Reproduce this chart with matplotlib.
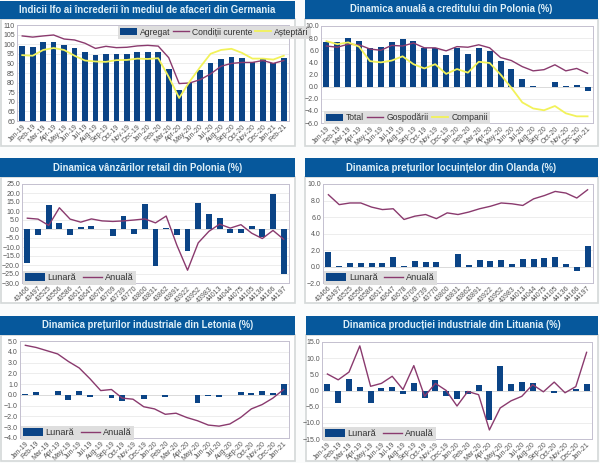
import matplotlib
matplotlib.use("Agg")
import matplotlib.pyplot as plt
import matplotlib.patches as mpatches
import numpy as np

W, H = 600, 463
NAVY = '#0b4486'
BANNER = '#06589c'
PLUM = '#8a3a6e'
YELLOW = '#f2f25a'
FONT = 'Liberation Sans'

months_26 = ['Jan-19', 'Feb-19', 'Mar-19', 'Apr-19', 'May-19', 'Jun-19', 'Jul-19', 'Aug-19', 'Sep-19',
             'Oct-19', 'Nov-19', 'Dec-19', 'Jan-20', 'Feb-20', 'Mar-20', 'Apr-20', 'May-20', 'Jun-20',
             'Jul-20', 'Aug-20', 'Sep-20', 'Oct-20', 'Nov-20', 'Dec-20', 'Jan-21', 'Feb-21']
months_25 = months_26[:25]
serials = ['43466', '43497', '43525', '43556', '43586', '43617', '43647', '43678', '43709', '43739',
           '43770', '43800', '43831', '43862', '43891', '43922', '43952', '43983', '44013', '44044',
           '44075', '44105', '44136', '44166', '44197']

ifo_agregat = [99.3, 98.6, 100.9, 101.3, 99.5, 97.9, 96, 94.3, 94.8, 94.7, 95, 95.8, 95.7, 96, 87, 76,
               80, 86.5, 90.2, 92.3, 93.3, 92.9, 90.8, 92.4, 90.3, 92.7]
ifo_conditii = [104.3, 103.7, 104.3, 104.8, 102.7, 102.2, 100.5, 97.8, 98.9, 98.2, 98.4, 99.1, 99.4, 99,
                93, 79.5, 79.8, 81.5, 84.5, 88.5, 90, 90.5, 90.5, 91.5, 90, 91.5]
ifo_asteptari = [94.3, 94, 97, 98, 97, 94, 91.5, 91, 90.8, 91.7, 91.8, 92.5, 92.3, 92.7, 83, 72,
                 80.5, 88, 95, 97, 97.6, 95.5, 92.5, 92.5, 92, 94]

credit_total = [7.3, 7.4, 8.1, 7.6, 6.4, 6.6, 7.4, 7.8, 7.5, 6.4, 6.4, 5.2, 6.3, 5.4, 6.3, 5.8, 4.2, 2.9,
                1.2, 0.05, 0, 0.8, 0.05, 0.2, -0.7]
credit_gosp = [6.7, 6.5, 7, 6.9, 6.2, 6, 6.8, 6.7, 7.2, 6.4, 6.4, 5.9, 6.6, 6.5, 6.9, 6.4, 4.8, 4.3,
               3.3, 2.6, 2.8, 3.6, 2.6, 3.0, 2.2]
credit_comp = [7.5, 7, 7.3, 6.6, 4.2, 4, 4.3, 5.0, 3.7, 3, 3.7, 2.1, 2.9, 2.3, 4.1, 3.9, 2, -0.2,
               -2.6, -3.6, -3.9, -3.2, -4.4, -4.9, -4.9]

retail_lunara = [-18.8, -3.2, 13.5, 3.4, -3.5, 1.3, 1.8, 0, -4, 7, -2.5, 14.1, -20.3, 0.3, -3.2, -12.2,
                 14.7, 8.3, 6.3, -2.4, -2, 1.9, -4.5, 19.7, -25]
retail_anuala = [6, 5.5, 2, 11.8, 5.5, 3.8, 5.6, 4.5, 4.2, 4.5, 5, 5.6, 3.4, 7.2, -9, -22.9,
                 -7.7, -1.3, 2.7, 0.5, 2.4, -2.3, -5.3, -0.8, -5.7]

locuinte_lunara = [1.8, 0.05, 0.4, 0.4, 0.4, 0.4, 1.1, 0.1, 0.65, 0.6, 0.5, 0, 1.5, 0.2, 0.8, 0.65,
                   0.75, 0.3, 0.9, 0.9, 1, 1.1, 0.3, -0.5, 2.5]
locuinte_anuala = [8.7, 7.5, 7.7, 7.7, 7.2, 6.9, 7, 5.7, 6.1, 6.3, 5.8, 6.5, 6.3, 6.6, 7, 7.3,
                   7.7, 7.6, 7.4, 8.2, 8.6, 9.1, 8.9, 8.3, 9.3]

letonia_lunara = [0.05, 0.3, -0.05, 0.35, -0.5, 0.35, -0.2, -0.05, -0.25, -0.55, -0.05, -0.35, 0, -0.2, 0, 0,
                  -0.75, -0.1, -0.2, 0, 0.3, 0.15, 0.35, 0.15, 1]
letonia_anuala = [4.6, 4.4, 4.1, 3.8, 3.1, 2.5, 1.5, 0.4, 0.5, -0.3, -0.4, -1.1, -1.3, -1.8, -1.7, -2.1,
                  -2.4, -2.8, -2.9, -2.7, -2.1, -1.3, -0.9, -0.3, 0.5]

lituania_lunara = [2, -4, 3.7, 1, -3.8, 0.7, 1, -1, 2.2, -2.2, 3.3, -1.7, -2.7, -1, 1.7, -9.2,
                   7.7, 2, 2.5, 2.2, 0, -0.8, 0, 0.5, 2]
lituania_anuala = [5.1, 3.3, 5.7, 13.8, 1.3, 2.2, 4.4, 0.3, 7.7, -1.8, 2.2, 0, -4.8, -0.3, -1.3, -12.2,
                   -5.4, -3.2, -1.8, 1.8, -0.4, 2.6, -0.7, 1.2, 11.8]


def draw_panel(fig, banner, card, box, title, labels, bars, lines, yrange, ystep, yfmt, legend_xy,
               legend_size=6.6, handle_len=2.1, col_space=0.7):
    # everything below is placed in reference pixels, y counted from the top
    fig.add_artist(mpatches.Rectangle((card[0] / W, 1 - card[3] / H), (card[2] - card[0]) / W,
                                      (card[3] - card[1]) / H, fc='white', ec='#d4d8d8', lw=1.2,
                                      transform=fig.transFigure, zorder=-2))
    fig.add_artist(mpatches.Rectangle((banner[0] / W, 1 - banner[3] / H), (banner[2] - banner[0]) / W,
                                      (banner[3] - banner[1]) / H, fc=BANNER, ec='none',
                                      transform=fig.transFigure, zorder=-1))
    fig.text((banner[0] + banner[2]) / 2 / W, 1 - (banner[1] + banner[3]) / 2 / H, title, color='#dff0f8',
             family=FONT, weight='bold', size=6.9, ha='center', va='center')

    ax = fig.add_axes([box[0] / W, 1 - box[3] / H, (box[2] - box[0]) / W, (box[3] - box[1]) / H])
    x = np.arange(len(labels))
    handles = [ax.bar(x, bars[1], width=0.55, color=NAVY, label=bars[0], zorder=2)]
    for name, values, color, lw in lines:
        handles.append(ax.plot(x, values, color=color, lw=lw, label=name, zorder=3)[0])

    ax.set_xlim(-0.5, len(labels) - 0.5)
    ax.set_ylim(*yrange)
    ax.set_yticks(np.arange(yrange[0], yrange[1] + ystep / 2, ystep))
    ax.yaxis.set_major_formatter(yfmt)
    ax.set_xticks(x)
    ax.set_xticklabels(labels, rotation=45, ha='right', rotation_mode='anchor')
    ax.tick_params(axis='both', labelsize=5, length=0, pad=1.5, labelcolor='#555555')
    for lab in ax.get_xticklabels() + ax.get_yticklabels():
        lab.set_family(FONT)
    ax.grid(axis='y', color='#e6e6e6', lw=0.5, zorder=0)
    ax.set_axisbelow(True)
    if yrange[0] < 0:
        ax.axhline(0, color='#d8d8d8', lw=0.6, zorder=1)
    for spine in ax.spines.values():
        spine.set_color('#c4c0d0')
        spine.set_linewidth(0.7)

    leg = ax.legend(handles=handles, ncol=len(handles), loc='upper left',
                    bbox_to_anchor=((legend_xy[0] - box[0]) / (box[2] - box[0]),
                                    1 - (legend_xy[1] - box[1]) / (box[3] - box[1])),
                    prop={'family': FONT, 'size': legend_size}, frameon=True, fancybox=False,
                    facecolor='#dedede', edgecolor='none', framealpha=1, handlelength=handle_len,
                    handleheight=0.85, handletextpad=0.35, columnspacing=col_space,
                    borderpad=0.25, borderaxespad=0, labelcolor='#333333')
    leg.set_zorder(4)
    return ax


fig = plt.figure(figsize=(W / 100, H / 100), dpi=100, facecolor='#fbfcfc')

draw_panel(fig, (0, 1, 295, 19), (1, 19, 295, 146), (17, 25, 289, 121),
           'Indicii Ifo ai încrederii în mediul de afaceri din Germania', months_26,
           ('Agregat', ifo_agregat),
           [('Condiții curente', ifo_conditii, PLUM, 1.0), ('Așteptări', ifo_asteptari, YELLOW, 1.3)],
           (60, 110), 5, '{x:.0f}', (118, 25.5), legend_size=6.2, handle_len=1.9, col_space=0.3)

draw_panel(fig, (305, 0, 598, 19), (305, 19, 598, 146), (321, 26, 593, 123),
           'Dinamica anuală a creditului din Polonia (%)', months_25,
           ('Total', credit_total),
           [('Gospodării', credit_gosp, PLUM, 1.0), ('Companii', credit_comp, YELLOW, 1.3)],
           (-6, 10), 2, '{x:.1f}', (324, 111), legend_size=6.2, handle_len=1.9, col_space=0.4)

draw_panel(fig, (0, 158, 295, 177), (1, 177, 295, 303), (22, 184, 289, 283),
           'Dinamica vânzărilor retail din Polonia (%)', serials,
           ('Lunară', retail_lunara),
           [('Anuală', retail_anuala, PLUM, 1.0)],
           (-30, 25), 5, '{x:.1f}', (23, 271))

draw_panel(fig, (305, 158, 598, 177), (305, 177, 598, 303), (323, 184, 593, 283),
           'Dinamica prețurilor locuințelor din Olanda (%)', serials,
           ('Lunară', locuinte_lunara),
           [('Anuală', locuinte_anuala, PLUM, 1.0)],
           (-2, 10), 2, '{x:.1f}', (324, 271))

draw_panel(fig, (0, 316, 295, 335), (1, 335, 295, 461), (20, 341, 289, 438),
           'Dinamica prețurilor industriale din Letonia (%)', months_25,
           ('Lunară', letonia_lunara),
           [('Anuală', letonia_anuala, PLUM, 1.0)],
           (-4, 5), 1, '{x:.1f}', (21, 426))

draw_panel(fig, (306, 316, 598, 335), (306, 335, 598, 461), (322, 342, 592, 439),
           'Dinamica producției industriale din Lituania (%)', months_25,
           ('Lunară', lituania_lunara),
           [('Anuală', lituania_anuala, PLUM, 1.0)],
           (-15, 15), 5, '{x:.1f}', (323, 427))

fig.savefig('out.png', dpi=100, facecolor=fig.get_facecolor())
